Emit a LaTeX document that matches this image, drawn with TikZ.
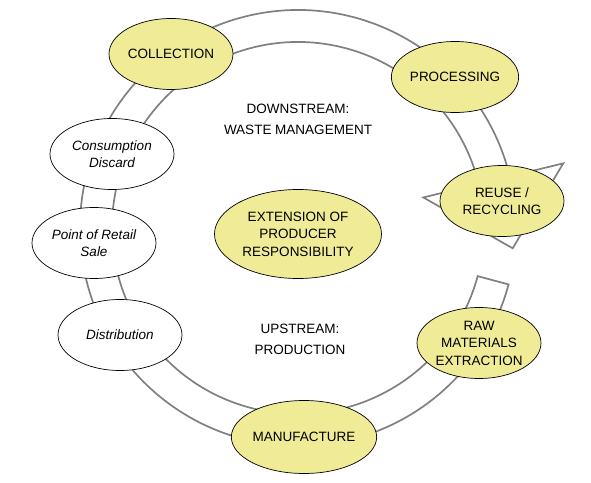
\documentclass[tikz,border=0pt]{standalone}
\usepackage{fontspec}
\setmainfont{Liberation Sans}
\usetikzlibrary{shapes.geometric,calc}
\definecolor{eyellow}{RGB}{240,235,150}
\definecolor{band}{RGB}{128,128,128}
\begin{document}
\begin{tikzpicture}[x=1pt,y=1pt,
  stage/.style={ellipse,draw=black,line width=0.7pt,fill=eyellow,inner sep=0pt,
    minimum width=124pt,minimum height=71pt,align=center,
    font=\fontsize{13.5}{17.5}\selectfont},
  actor/.style={stage,fill=white,font=\fontsize{13.5}{17.5}\selectfont\itshape},
  freetext/.style={align=center,inner sep=0pt,font=\fontsize{13.5}{21}\selectfont},
  bandline/.style={draw=band,line width=1.7pt,line join=miter}]
\useasboundingbox (0,0) rectangle (591,482);
\coordinate (c) at (298,254);
% circular arrow band
\coordinate (ti) at ($(c)+(-15:186)$);
\coordinate (to) at ($(c)+(-15:218)$);
\coordinate (bi) at ($(c)+(13.7:186)$);
\coordinate (bo) at ($(c)+(13.7:218)$);
\coordinate (hi) at ($(c)+(13.7:129)$);
\coordinate (ho) at ($(c)+(13.7:273)$);
\coordinate (tip) at (512.7,233.7);
\draw[bandline] (ti) arc[start angle=-15,end angle=-346.3,radius=186]
  -- (hi) -- (tip) -- (ho) -- (bo)
  arc[start angle=-346.3,end angle=-15,radius=218] -- cycle;
% nodes
\node[stage] (collection) at (171,428) {COLLECTION};
\node[stage] (processing) at (455,405) {PROCESSING};
\node[stage] (reuse) at (502,281) {REUSE /\\RECYCLING};
\node[stage] (raw) at (479,139) {RAW\\MATERIALS\\EXTRACTION};
\node[stage,minimum width=126pt,minimum height=73pt] (manufacture) at (304,45) {MANUFACTURE};
\node[actor] (distribution) at (120,147) {Distribution};
\node[actor] (retail) at (94,239) {Point of Retail\\Sale};
\node[actor] (consumption) at (112,328) {Consumption\\Discard};
\node[stage,minimum width=167pt,minimum height=89pt] (epr) at (298,248) {EXTENSION OF\\PRODUCER\\RESPONSIBILITY};
\node[freetext] (down) at (298,363) {DOWNSTREAM:\\WASTE MANAGEMENT};
\node[freetext] (up) at (300,143) {UPSTREAM:\\PRODUCTION};
\end{tikzpicture}
\end{document}
